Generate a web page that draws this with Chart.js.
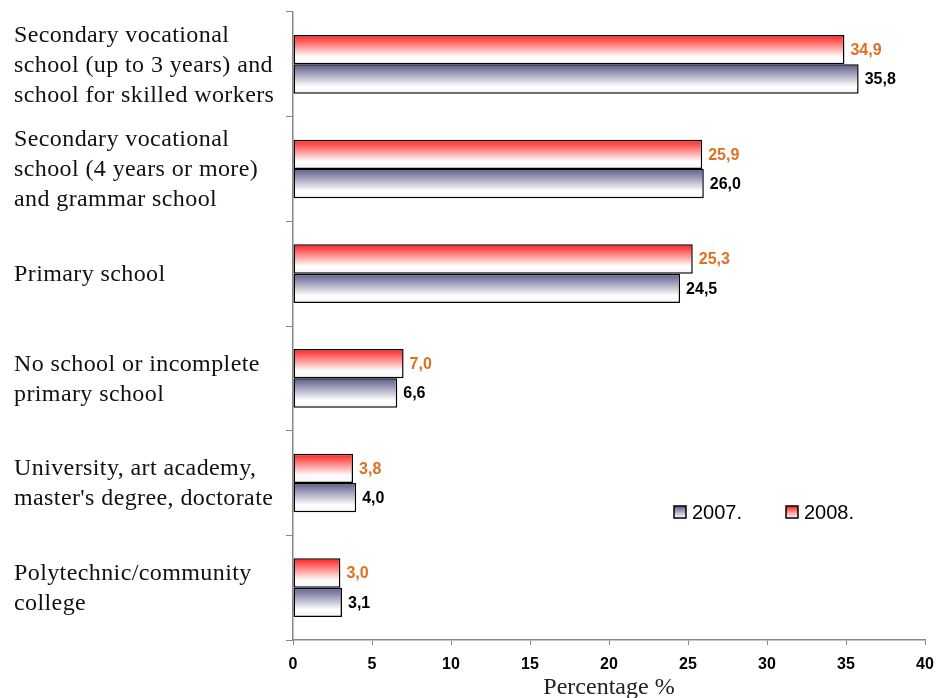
<!DOCTYPE html>
<html>
<head>
<meta charset="utf-8">
<script src="https://cdn.jsdelivr.net/npm/chart.js@4"></script>
<style>
  html, body { margin:0; padding:0; background:#fff; }
  #wrap { width:937px; height:698px; position:relative; }
</style>
</head>
<body>
<div id="wrap"><canvas id="chart"></canvas></div>
<script>
const categories = [
    ['Secondary vocational', 'school (up to 3 years) and', 'school for skilled workers'],
    ['Secondary vocational', 'school (4 years or more)', 'and grammar school'],
    ['Primary school'],
    ['No school or incomplete', 'primary school'],
    ['University, art academy,', "master's degree, doctorate"],
    ['Polytechnic/community', 'college']
];
const values2008 = [34.9, 25.9, 25.3, 7.0, 3.8, 3.0];
const values2007 = [35.8, 26.0, 24.5, 6.6, 4.0, 3.1];
const xTicks = [0, 5, 10, 15, 20, 25, 30, 35, 40];

const CAT_PCT = 0.56;
const topColors = { '2008.': '#ff1e1e', '2007.': '#5a5a8a' };
const labelColors = { '2008.': '#e07020', '2007.': '#000000' };

// vertical gradient for each bar, top colour fading to white
function barGradient(ctx) {
    const chart = ctx.chart, y = chart.scales && chart.scales.y;
    const col = topColors[ctx.dataset.label];
    if (!y || !chart.chartArea || ctx.dataIndex === undefined) return col;
    const band = (y.bottom - y.top) / categories.length;
    const t = band * CAT_PCT / 2;
    const c = y.getPixelForValue(ctx.dataIndex);
    const y0 = ctx.datasetIndex === 0 ? c - t : c;
    const g = chart.ctx.createLinearGradient(0, y0, 0, y0 + t);
    g.addColorStop(0, col);
    g.addColorStop(0.75, '#ffffff');
    g.addColorStop(1, '#f4f4f4');
    return g;
}

// category labels, serif, left aligned, slightly spaced like the original
const catLabels = {
    id: 'catLabels',
    afterDraw(chart) {
        const ctx = chart.ctx, y = chart.scales.y;
        ctx.save();
        ctx.font = '24px "Liberation Serif", "Times New Roman", serif';
        ctx.letterSpacing = '0.4px';
        ctx.fillStyle = '#111';
        ctx.textBaseline = 'middle';
        ctx.textAlign = 'left';
        categories.forEach((lines, i) => {
            const c = y.getPixelForValue(i);
            lines.forEach((ln, k) => {
                ctx.fillText(ln, 14, c + 1 + (k - (lines.length - 1) / 2) * 30);
            });
        });
        ctx.restore();
    }
};

const valueLabels = {
    id: 'valueLabels',
    afterDatasetsDraw(chart) {
        const ctx = chart.ctx;
        ctx.save();
        ctx.font = 'bold 16px "Liberation Sans", Arial, sans-serif';
        ctx.textBaseline = 'middle';
        ctx.textAlign = 'left';
        chart.data.datasets.forEach((ds, di) => {
            ctx.fillStyle = labelColors[ds.label];
            chart.getDatasetMeta(di).data.forEach((bar, i) => {
                ctx.fillText(ds.data[i].toFixed(1).replace('.', ','), bar.x + 6, bar.y + 1);
            });
        });
        ctx.restore();
    }
};

// legend in lower right of plot, 2007 first
const boxLegend = {
    id: 'boxLegend',
    afterDraw(chart) {
        const ctx = chart.ctx, a = chart.chartArea;
        const order = [1, 0];
        let x = a.left + 381;
        const y = a.top + 500;
        ctx.save();
        ctx.font = '20px "Liberation Sans", Arial, sans-serif';
        ctx.textBaseline = 'middle';
        order.forEach(di => {
            const ds = chart.data.datasets[di];
            const g = ctx.createLinearGradient(0, y - 6, 0, y + 6);
            g.addColorStop(0, topColors[ds.label]);
            g.addColorStop(1, '#ffffff');
            ctx.fillStyle = g;
            ctx.fillRect(x, y - 6, 12, 12);
            ctx.lineWidth = 1.5;
            ctx.strokeStyle = '#000';
            ctx.strokeRect(x, y - 6, 12, 12);
            ctx.fillStyle = '#000';
            ctx.fillText(ds.label, x + 18, y + 1);
            x += 112;
        });
        ctx.restore();
    }
};

const barStyle = {
    categoryPercentage: CAT_PCT,
    barPercentage: 1.0,
    backgroundColor: barGradient,
    borderColor: '#000',
    borderWidth: 1.5,
    borderSkipped: false
};

new Chart(document.getElementById('chart'), {
    type: 'bar',
    data: {
        labels: categories.map(c => c.join(' ')),
        datasets: [
            Object.assign({ label: '2008.', data: values2008 }, barStyle),
            Object.assign({ label: '2007.', data: values2007 }, barStyle)
        ]
    },
    options: {
        indexAxis: 'y',
        responsive: true,
        maintainAspectRatio: false,
        animation: false,
        events: [],
        layout: { padding: { top: 12, right: 12, left: 14, bottom: 0 } },
        plugins: { legend: { display: false }, tooltip: { enabled: false }, colors: { enabled: false } },
        scales: {
            y: {
                grid: { offset: true, drawOnChartArea: false, tickLength: 7, color: '#888', lineWidth: 1 },
                border: { color: '#888', width: 1.5 },
                ticks: { display: false },
                afterFit: axis => { axis.width = 279; axis.paddingTop = 0; axis.paddingBottom = 0; }
            },
            x: {
                min: 0, max: 40,
                afterBuildTicks: axis => { axis.ticks = xTicks.map(v => ({ value: v })); },
                grid: { drawOnChartArea: false, tickLength: 5, color: '#888' },
                border: { color: '#888', width: 1.5 },
                ticks: {
                    color: '#000', padding: 10,
                    font: { family: '"Liberation Sans", Arial, sans-serif', size: 16, weight: 'bold' }
                },
                title: {
                    display: true, text: 'Percentage %', color: '#222',
                    font: { family: '"Liberation Serif", "Times New Roman", serif', size: 24 },
                    padding: { top: 0, bottom: -4 }
                },
                afterFit: axis => { axis.height = 58; axis.paddingLeft = 0; axis.paddingRight = 0; }
            }
        }
    },
    plugins: [valueLabels, catLabels, boxLegend]
});
</script>
</body>
</html>
